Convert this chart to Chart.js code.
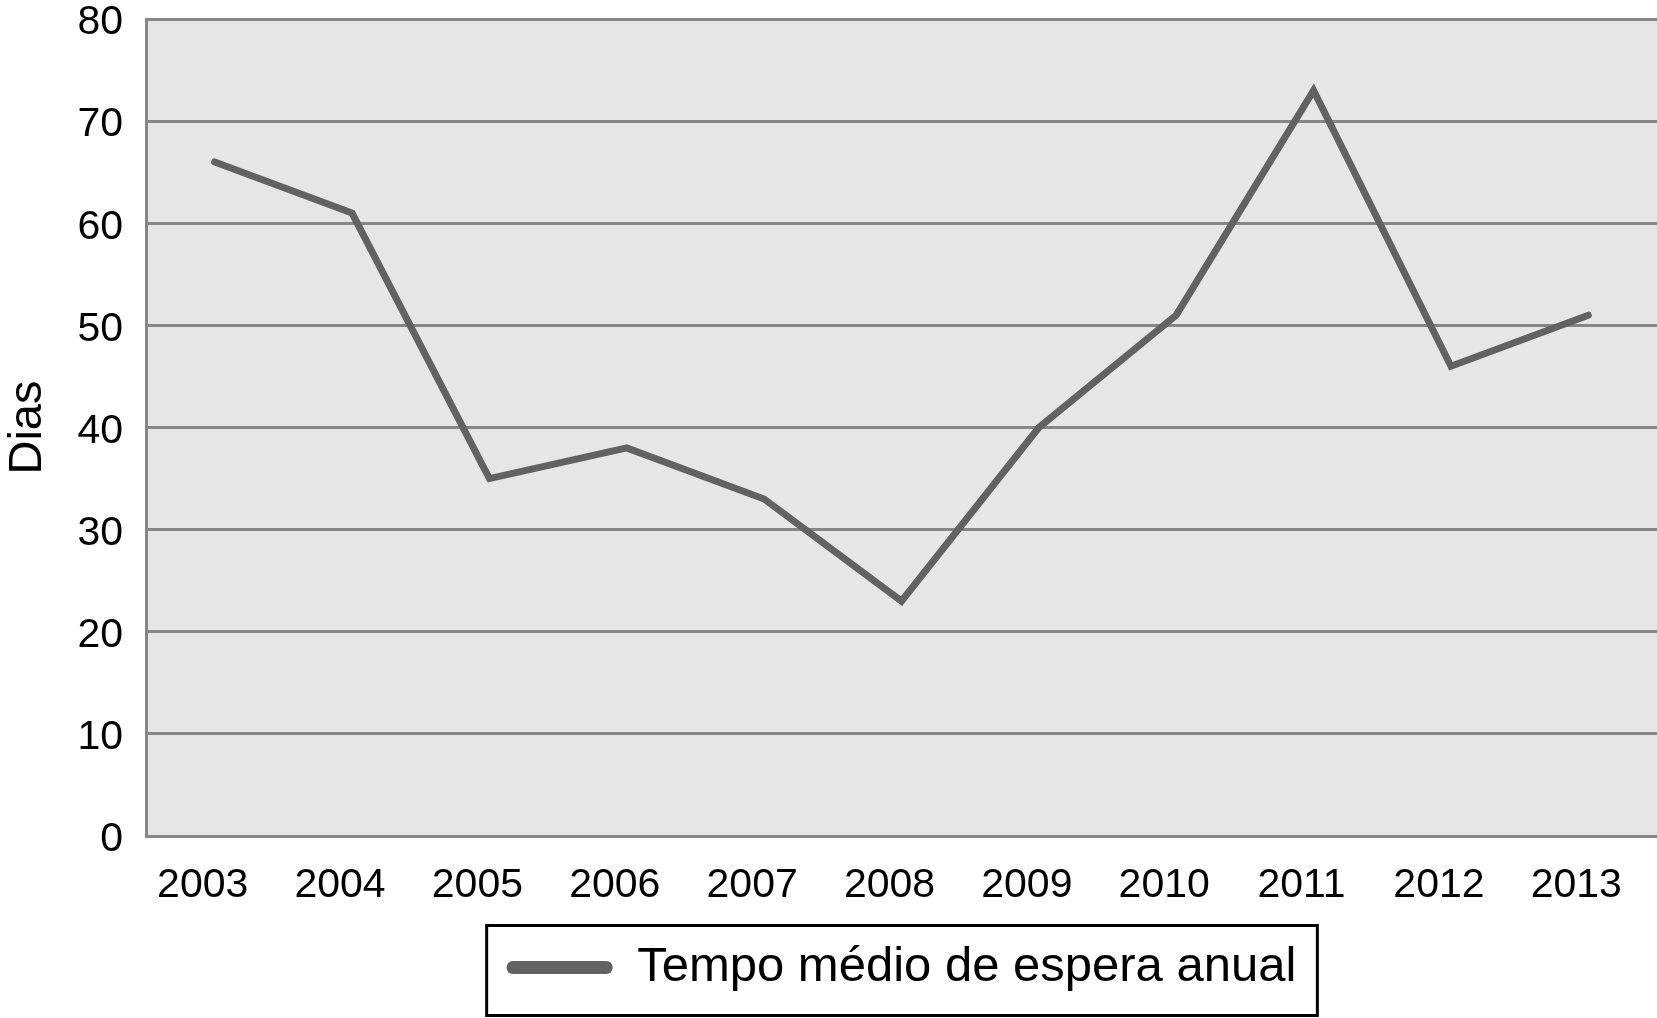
<!DOCTYPE html>
<html><head><meta charset="utf-8">
<script src="https://cdn.jsdelivr.net/npm/chart.js@4.4.1/dist/chart.umd.min.js"></script>
<style>html,body{margin:0;padding:0;background:#fff;}canvas{display:block;}</style>
</head><body>
<canvas id="c" width="1657" height="1018"></canvas>
<script>
const years = ['2003','2004','2005','2006','2007','2008','2009','2010','2011','2012','2013'];
const waitDays = [66, 61, 35, 38, 33, 23, 40, 51, 73, 46, 51];
const yMin = 0, yMax = 80, yStep = 10;
const seriesLabel = 'Tempo médio de espera anual';
const yTitle = 'Dias';

const FONT = "'Liberation Sans', Arial, Helvetica, sans-serif";
const LINE = '#626262';
const GRID = '#868686';

const plotBg = {
  id: 'plotBg',
  beforeDraw(chart) {
    const {ctx, chartArea: a} = chart;
    ctx.save();
    ctx.fillStyle = '#e6e6e6';
    ctx.fillRect(a.left, a.top, a.right - a.left, a.bottom - a.top);
    ctx.restore();
  }
};
const legendFrame = {
  id: 'legendFrame',
  afterDraw(chart) {
    const hb = chart.legend && chart.legend.legendHitBoxes && chart.legend.legendHitBoxes[0];
    if (!hb) return;
    const {ctx} = chart;
    const cy = hb.top + hb.height / 2;
    const l = hb.left - 20, r = hb.left + hb.width + 21;
    ctx.save();
    ctx.strokeStyle = '#000';
    ctx.lineWidth = 3;
    ctx.strokeRect(l, cy - 42, r - l, 90);
    ctx.restore();
  }
};

new Chart(document.getElementById('c'), {
  type: 'line',
  data: {
    labels: years,
    datasets: [{
      label: seriesLabel,
      data: waitDays,
      borderColor: LINE,
      backgroundColor: LINE,
      borderWidth: 7,
      borderCapStyle: 'round',
      borderJoinStyle: 'miter',
      pointRadius: 0,
      tension: 0,
      fill: false
    }]
  },
  options: {
    responsive: false,
    animation: false,
    devicePixelRatio: 1,
    layout: { padding: { top: 19, right: 0, bottom: 16, left: 0 } },
    plugins: {
      tooltip: { enabled: false },
      legend: {
        position: 'bottom',
        fullSize: false,
        labels: {
          color: '#000',
          font: { family: FONT, size: 49 },
          boxWidth: 106,
          boxHeight: 13,
          padding: 16,
          useBorderRadius: true,
          borderRadius: 6,
          generateLabels(chart) {
            const items = Chart.defaults.plugins.legend.labels.generateLabels(chart);
            items.forEach(i => { i.lineWidth = 0; i.fillStyle = LINE; i.strokeStyle = LINE; i.borderRadius = 6; });
            return items;
          }
        }
      }
    },
    scales: {
      x: {
        offset: true,
        grid: { display: false },
        border: { display: true, color: GRID, width: 3 },
        ticks: {
          color: '#000',
          font: { family: FONT, size: 41, lineHeight: 1.2 },
          padding: 17,
          labelOffset: -12,
          maxRotation: 0,
          autoSkip: false
        },
        afterFit(scale) { scale.height = 91; }
      },
      y: {
        min: yMin, max: yMax,
        grid: { color: GRID, lineWidth: 3, drawTicks: true, tickLength: 23, tickColor: 'rgba(0,0,0,0)' },
        border: { display: true, color: GRID, width: 3 },
        ticks: {
          stepSize: yStep,
          color: '#000',
          font: { family: FONT, size: 41, lineHeight: 0.9 },
          padding: 0,
          labelOffset: 4
        },
        title: {
          display: true,
          text: yTitle,
          color: '#000',
          font: { family: FONT, size: 47, lineHeight: 1.0 },
          padding: { top: 5, bottom: 0 }
        },
        afterFit(scale) { scale.width = 146; }
      }
    }
  },
  plugins: [plotBg, legendFrame]
});
</script>
</body></html>
